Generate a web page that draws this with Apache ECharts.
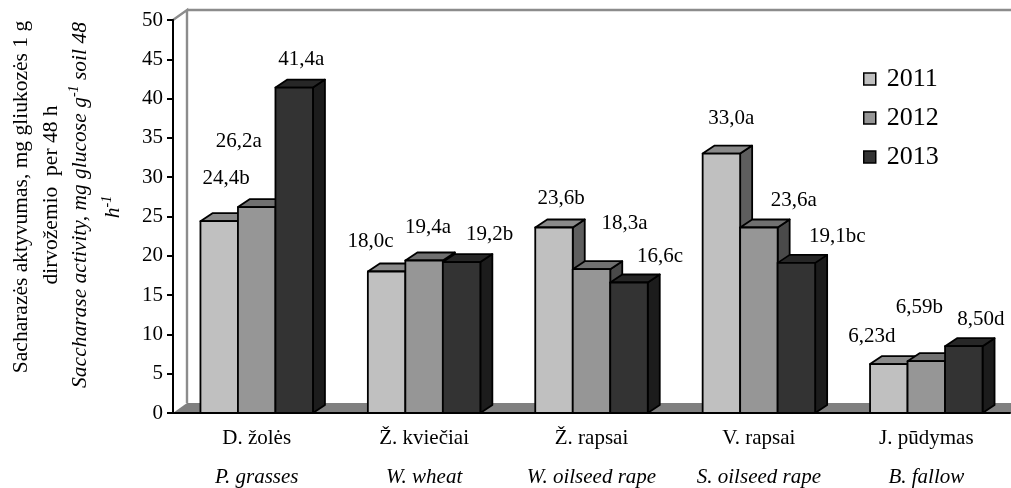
<!DOCTYPE html>
<html>
<head>
<meta charset="utf-8">
<script src="https://cdn.jsdelivr.net/npm/echarts@6/dist/echarts.min.js"></script>
<style>
  html, body { margin: 0; padding: 0; background: #fff; }
  #chart { width: 1011px; height: 488px; }
</style>
</head>
<body>
<div id="chart"></div>
<script>
// data
const categories = ['D. žolės', 'Ž. kviečiai', 'Ž. rapsai', 'V. rapsai', 'J. pūdymas']
const categoriesEn = ['P. grasses', 'W. wheat', 'W. oilseed rape', 'S. oilseed rape', 'B. fallow']
const years = ['2011', '2012', '2013']
const values2011 = [24.4, 18.0, 23.6, 33.0, 6.23]
const values2012 = [26.2, 19.4, 18.3, 23.6, 6.59]
const values2013 = [41.4, 19.2, 16.6, 19.1, 8.50]
const letters2011 = ['b', 'c', 'b', 'a', 'd']
const letters2012 = ['a', 'a', 'a', 'a', 'b']
const letters2013 = ['a', 'b', 'c', 'bc', 'd']
const decimals = [1, 1, 1, 1, 2]
const yMin = 0
const yMax = 50
const yStep = 5

const FONT = 'Liberation Serif'

// look of the 3d bars: front, top, side
const shades = [
  ['#c0c0c0', '#8a8a8a', '#5e5e5e'],
  ['#969696', '#707070', '#4a4a4a'],
  ['#333333', '#272727', '#1c1c1c']
]
const BAR_DX = 12
const BAR_DY = 8
const WALL_DX = 14
const WALL_DY = 10

// hand placed value labels (offset from top centre of the front face)
const labelNudge = [
  [[7, -43], [-16, -30], [7, -29], [10, -35], [-17, -28]],
  [[-18, -66], [4, -33], [33, -46], [35, -27], [-7, -54]],
  [[7, -28], [28, -28], [31, -26], [41, -26], [17, -27]]
]

const seriesValues = [values2011, values2012, values2013]
const seriesLetters = [letters2011, letters2012, letters2013]

function labelText(k, i) {
  return seriesValues[k][i].toFixed(decimals[i]).replace('.', ',') + seriesLetters[k][i]
}

function barRenderer(k) {
  return function (params, api) {
    const i = api.value(0)
    const top = api.coord([i, api.value(1)])
    const base = api.coord([i, 0])
    const w = api.size([1, 0])[0] * 0.224
    const x0 = top[0] + (k - 1.5) * w
    const x1 = x0 + w
    const yt = top[1]
    const yb = base[1]
    const s = shades[k]
    const edge = { stroke: '#000', lineWidth: 1.8, lineJoin: 'round' }
    const nudge = labelNudge[k][i]
    return {
      type: 'group',
      children: [
        {
          type: 'polygon',
          shape: { points: [[x1, yt], [x1 + BAR_DX, yt - BAR_DY], [x1 + BAR_DX, yb - BAR_DY], [x1, yb]] },
          style: Object.assign({ fill: s[2] }, edge)
        },
        {
          type: 'polygon',
          shape: { points: [[x0, yt], [x0 + BAR_DX, yt - BAR_DY], [x1 + BAR_DX, yt - BAR_DY], [x1, yt]] },
          style: Object.assign({ fill: s[1] }, edge)
        },
        {
          type: 'rect',
          shape: { x: x0, y: yt, width: w, height: yb - yt },
          style: Object.assign({ fill: s[0] }, edge)
        },
        {
          type: 'text',
          x: (x0 + x1) / 2 + nudge[0],
          y: yt + nudge[1],
          style: {
            text: labelText(k, i),
            font: '21px "' + FONT + '"',
            fill: '#000',
            align: 'center',
            verticalAlign: 'middle'
          }
        }
      ]
    }
  }
}

function frameRenderer(params, api) {
  const band = api.size([1, 0])[0]
  const lb = api.coord([0, yMin])
  const rt = api.coord([categories.length - 1, yMax])
  const L = lb[0] - band / 2
  const R = rt[0] + band / 2
  const y0 = lb[1]
  const yT = rt[1]
  const wall = { stroke: '#8c8c8c', lineWidth: 2.4, fill: null }
  return {
    type: 'group',
    children: [
      {
        type: 'polygon',
        shape: { points: [[L, y0], [L + WALL_DX, y0 - WALL_DY], [R + WALL_DX + 20, y0 - WALL_DY], [R, y0]] },
        style: { fill: '#808080' }
      },
      {
        type: 'polyline',
        shape: { points: [[L, yT], [L + WALL_DX, yT - WALL_DY], [L + WALL_DX, y0 - WALL_DY]] },
        style: wall
      },
      {
        type: 'line',
        shape: { x1: L + WALL_DX, y1: yT - WALL_DY, x2: R + WALL_DX + 20, y2: yT - WALL_DY },
        style: wall
      }
    ]
  }
}

const chart = echarts.init(document.getElementById('chart'))

const barSeries = years.map(function (year, k) {
  return {
    name: year,
    type: 'custom',
    renderItem: barRenderer(k),
    itemStyle: { color: shades[k][0], borderColor: '#000', borderWidth: 1.5 },
    data: seriesValues[k].map(function (v, i) { return [i, v] }),
    z: 3 + k
  }
})

const titleFont = '21.5px "' + FONT + '"'

chart.setOption({
  animation: false,
  textStyle: { fontFamily: FONT, color: '#000' },
  grid: { left: 173, right: 1, top: 20, bottom: 75 },
  legend: {
    data: years,
    orient: 'vertical',
    left: 858,
    top: 61,
    icon: 'rect',
    itemWidth: 12,
    itemHeight: 12,
    itemGap: 13,
    itemStyle: { borderColor: '#000', borderWidth: 1.5 },
    textStyle: { fontFamily: FONT, fontSize: 26, color: '#000', padding: [0, 0, 0, 6] }
  },
  xAxis: {
    type: 'category',
    data: categories,
    z: 10,
    axisLine: { lineStyle: { color: '#000', width: 2 } },
    axisTick: { length: 7, lineStyle: { color: '#000', width: 2 } },
    axisLabel: {
      interval: 0,
      margin: 6,
      formatter: function (val, idx) {
        return '{a|' + val + '}\n{b|' + categoriesEn[idx] + '}'
      },
      rich: {
        a: { fontFamily: FONT, fontSize: 21, lineHeight: 39, color: '#000' },
        b: { fontFamily: FONT, fontSize: 21, lineHeight: 39, fontStyle: 'italic', color: '#000' }
      }
    }
  },
  yAxis: {
    type: 'value',
    min: yMin,
    max: yMax,
    interval: yStep,
    z: 10,
    axisLine: { show: true, lineStyle: { color: '#000', width: 2 } },
    axisTick: { show: true, length: 6, lineStyle: { color: '#000', width: 2 } },
    splitLine: { show: false },
    axisLabel: { fontFamily: FONT, fontSize: 21, color: '#000', margin: 10 }
  },
  graphic: [
    {
      type: 'text', x: 21, y: 197, rotation: Math.PI / 2,
      style: {
        text: 'Sacharazės aktyvumas, mg gliukozės 1 g',
        font: titleFont, fill: '#000', align: 'center', verticalAlign: 'middle'
      }
    },
    {
      type: 'text', x: 51, y: 195, rotation: Math.PI / 2,
      style: {
        text: 'dirvožemio  per 48 h',
        font: titleFont, fill: '#000', align: 'center', verticalAlign: 'middle'
      }
    },
    {
      type: 'text', x: 80, y: 205, rotation: Math.PI / 2,
      style: {
        text: '{i|Saccharase activity, mg glucose g}{s|-1}{i| soil 48}',
        align: 'center', verticalAlign: 'middle',
        rich: {
          i: { fontFamily: FONT, fontSize: 21.5, fontStyle: 'italic', lineHeight: 25, fill: '#000' },
          s: { fontFamily: FONT, fontSize: 14, fontStyle: 'italic', verticalAlign: 'top', fill: '#000' }
        }
      }
    },
    {
      type: 'text', x: 113, y: 207, rotation: Math.PI / 2,
      style: {
        text: '{i|h}{s|-1}',
        align: 'center', verticalAlign: 'middle',
        rich: {
          i: { fontFamily: FONT, fontSize: 21.5, fontStyle: 'italic', lineHeight: 25, fill: '#000' },
          s: { fontFamily: FONT, fontSize: 14, fontStyle: 'italic', verticalAlign: 'top', fill: '#000' }
        }
      }
    }
  ],
  series: [
    {
      type: 'custom',
      name: 'frame',
      renderItem: frameRenderer,
      data: [[0, 0]],
      silent: true,
      z: 1
    }
  ].concat(barSeries)
})
</script>
</body>
</html>
